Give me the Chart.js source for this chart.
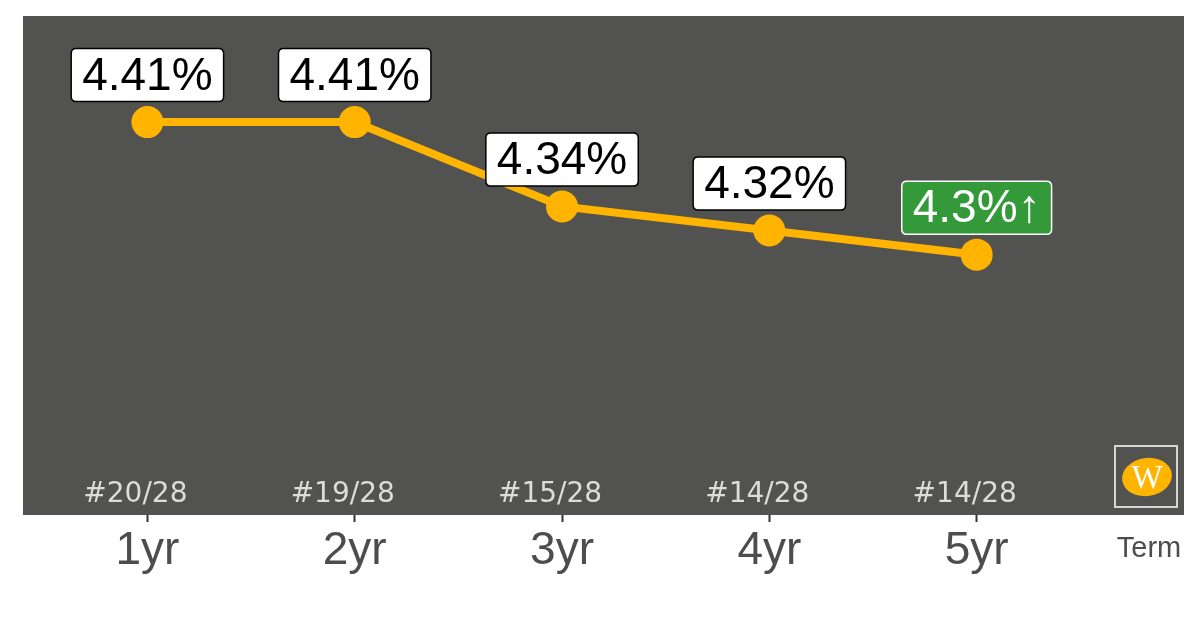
<!DOCTYPE html>
<html>
<head>
<meta charset="utf-8">
<script src="https://cdn.jsdelivr.net/npm/chart.js@4"></script>
<style>
  html, body { margin: 0; padding: 0; background: #ffffff; }
  #wrap { width: 1200px; height: 628px; position: relative; }
</style>
</head>
<body>
<div id="wrap"><canvas id="rateChart"></canvas></div>
<script>
// DATA
const terms = ["1yr", "2yr", "3yr", "4yr", "5yr"];
const rates = [4.41, 4.41, 4.34, 4.32, 4.3];
const ranks = ["#20/28", "#19/28", "#15/28", "#14/28", "#14/28"];
const moves = ["", "", "", "", "↑"];

const panelColor = "#525250";
const lineColor = "#FFB400";
const greyText = "#4d4d4d";

function roundRect(ctx, x, y, w, h, r) {
    ctx.beginPath();
    ctx.moveTo(x + r, y);
    ctx.lineTo(x + w - r, y);
    ctx.quadraticCurveTo(x + w, y, x + w, y + r);
    ctx.lineTo(x + w, y + h - r);
    ctx.quadraticCurveTo(x + w, y + h, x + w - r, y + h);
    ctx.lineTo(x + r, y + h);
    ctx.quadraticCurveTo(x, y + h, x, y + h - r);
    ctx.lineTo(x, y + r);
    ctx.quadraticCurveTo(x, y, x + r, y);
    ctx.closePath();
}

// dark panel behind the plot
const panelBg = {
    id: "panelBg",
    beforeDraw(chart) {
        const { ctx, chartArea: a } = chart;
        ctx.save();
        ctx.fillStyle = panelColor;
        ctx.fillRect(a.left, a.top, a.right - a.left, a.bottom - a.top);
        ctx.restore();
    }
};

// rank labels, value boxes, logo, "Term"
const extras = {
    id: "extras",
    afterDatasetsDraw(chart) {
        const { ctx, chartArea: a, scales } = chart;
        const meta = chart.getDatasetMeta(0);
        ctx.save();

        // ranks along the bottom of the panel
        ctx.font = "28px 'DejaVu Sans'";
        ctx.fillStyle = "#dcdcdc";
        ctx.textAlign = "center";
        ctx.textBaseline = "middle";
        ranks.forEach((r, i) => {
            ctx.fillText(r, scales.x.getPixelForValue(i) - 12, a.bottom - 20);
        });

        // value labels
        ctx.font = "46px 'Liberation Sans'";
        meta.data.forEach((pt, i) => {
            const txt = rates[i] + "%" + moves[i];
            const up = moves[i] !== "";
            const w = ctx.measureText(txt).width + 22;
            const h = 53;
            const cx = pt.x, cy = pt.y - 47;
            roundRect(ctx, cx - w / 2, cy - h / 2, w, h, 5);
            ctx.fillStyle = up ? "#339939" : "#ffffff";
            ctx.fill();
            ctx.lineWidth = 1.5;
            ctx.strokeStyle = up ? "#ffffff" : "#000000";
            ctx.stroke();
            ctx.fillStyle = up ? "#ffffff" : "#000000";
            ctx.fillText(txt, cx, cy + 2);
        });

        // logo
        const lx = a.right - 69, ly = a.bottom - 69;
        ctx.strokeStyle = "#d4d4d4";
        ctx.lineWidth = 2;
        ctx.strokeRect(lx, ly, 62, 61);
        ctx.beginPath();
        ctx.ellipse(lx + 32, ly + 31, 25, 19, -0.15, 0, Math.PI * 2);
        ctx.fillStyle = lineColor;
        ctx.fill();
        ctx.fillStyle = "#ffffff";
        ctx.font = "33px 'Liberation Serif'";
        ctx.fillText("W", lx + 32, ly + 33);

        // axis name
        ctx.fillStyle = greyText;
        ctx.font = "29px 'Liberation Sans'";
        ctx.fillText("Term", a.right - 35, a.bottom + 34);
        ctx.restore();
    }
};

const ctx = document.getElementById("rateChart").getContext("2d");

new Chart(ctx, {
    type: "line",
    data: {
        datasets: [{
            data: rates.map((v, i) => ({ x: i, y: v })),
            borderColor: lineColor,
            backgroundColor: lineColor,
            borderWidth: 8,
            pointRadius: 16,
            pointHoverRadius: 16,
            pointBorderWidth: 0,
            tension: 0,
            fill: false
        }]
    },
    options: {
        responsive: true,
        maintainAspectRatio: false,
        animation: false,
        events: [],
        layout: { padding: { left: 23, right: 13, top: 15, bottom: 0 } },
        plugins: {
            legend: { display: false },
            tooltip: { enabled: false }
        },
        scales: {
            x: {
                type: "linear",
                min: -0.6,
                max: 5.0,
                afterBuildTicks: s => { s.ticks = terms.map((t, i) => ({ value: i })); },
                afterFit: s => { s.height = 113; },
                border: { display: false },
                grid: {
                    drawOnChartArea: false,
                    tickLength: 7,
                    tickWidth: 2,
                    tickColor: "#333333"
                },
                ticks: {
                    autoSkip: false,
                    maxRotation: 0,
                    padding: 2,
                    color: greyText,
                    font: { family: "Liberation Sans", size: 46 },
                    callback: v => terms[v]
                }
            },
            y: {
                display: false,
                min: 4.084,
                max: 4.498
            }
        }
    },
    plugins: [panelBg, extras]
});
</script>
</body>
</html>
